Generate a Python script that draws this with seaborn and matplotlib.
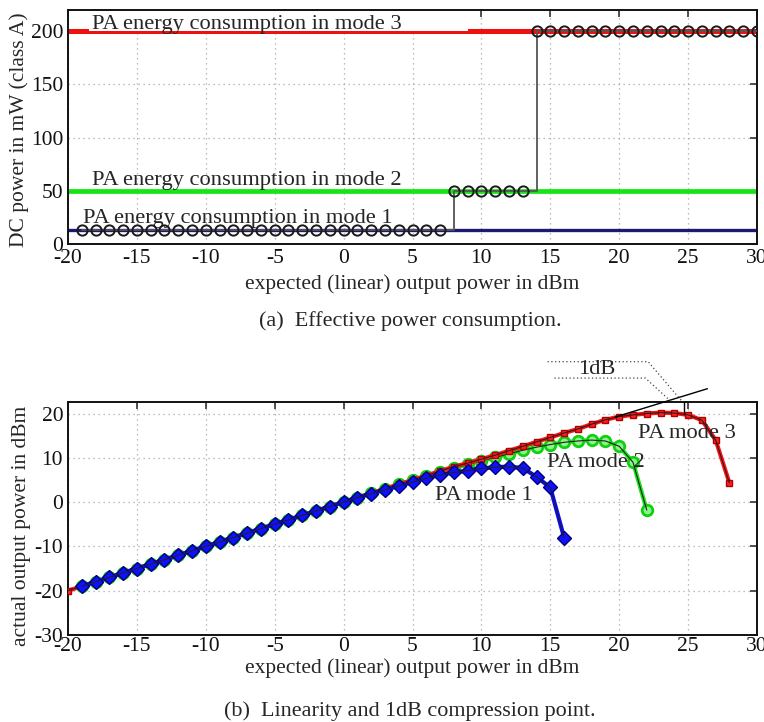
import matplotlib
matplotlib.use("Agg")
import matplotlib.pyplot as plt
from matplotlib.patches import Rectangle
import seaborn as sns

# ---- data -------------------------------------------------------------
# (a) DC power of the selected PA mode vs. expected output power
mode_levels = [13, 50, 200]                      # mW, modes 1..3
mode_colors = ["#1a1a72", "#14e614", "#f01010"]
mode_labels = ["PA energy consumption in mode 1",
               "PA energy consumption in mode 2",
               "PA energy consumption in mode 3"]
sel_in = list(range(-19, 31))
sel_dc = [13] * 27 + [50] * 6 + [200] * 17

# (b) actual output power for each PA mode
in_m1 = list(range(-19, 17))
out_m1 = [-19, -18, -17, -16, -15, -14, -13, -12, -11, -10,
          -9, -8, -7, -6, -5, -4, -3, -2, -1,
          0, 1.0, 1.9, 2.8, 3.6, 4.5, 5.4, 6.1, 6.7, 7.1,
          7.6, 7.9, 8.0, 7.7, 5.7, 3.3, -8.0]
in_m2 = list(range(-19, 23))
out_m2 = [-19, -18, -17, -16, -15, -14, -13, -12, -11, -10,
          -9, -8, -7, -6, -5, -4, -3, -2, -1,
          0, 1, 2, 3, 4, 4.9, 5.9, 6.8, 7.7, 8.5, 9.3,
          10.1, 10.9, 11.7, 12.4, 13.0, 13.5, 13.8, 14.0, 13.8, 12.6,
          9.0, -1.8]
in_m3 = list(range(-20, 29))
out_m3 = [-20, -19, -18, -17, -16, -15, -14, -13, -12, -11, -10,
          -9, -8, -7, -6, -5, -4, -3, -2, -1,
          0, 1, 2, 3, 4, 5, 6, 7, 8, 8.8, 9.7,
          10.6, 11.6, 12.6, 13.6, 14.6, 15.6, 16.5, 17.6, 18.6, 19.3,
          19.7, 20.0, 20.2, 20.1, 19.7, 18.5, 14.0, 4.3]
curve_labels = ["PA mode 1", "PA mode 2", "PA mode 3"]

x_ticks = list(range(-20, 31, 5))
y_ticks_a = [0, 50, 100, 150, 200]
y_ticks_b = [-30, -20, -10, 0, 10, 20]

# ---- style ------------------------------------------------------------
sns.set_theme(style="white")
plt.rcParams["font.family"] = ["Liberation Serif", "DejaVu Serif"]
plt.rcParams["axes.unicode_minus"] = False
FS = 15.5      # ticks, axis labels, captions
FA = 16.2      # in-plot annotations

fig = plt.figure(figsize=(7.64, 7.22), dpi=100)
ax1 = fig.add_axes([68 / 764, 1 - 244 / 722, 689 / 764, 234 / 722])
ax2 = fig.add_axes([68 / 764, 1 - 635 / 722, 689 / 764, 233 / 722])


def frame(ax):
    ax.grid(True, linestyle=(0, (1, 3)), color="#a8a8a8", linewidth=0.9)
    ax.set_axisbelow(True)
    for s in ax.spines.values():
        s.set_color("#111111")
        s.set_linewidth(1.4)
    ax.tick_params(direction="in", top=True, right=True, length=5,
                   width=1.2, color="#333333", labelsize=FS,
                   labelcolor="#111111")
    ax.set_xticks(x_ticks)
    ax.set_xticklabels([str(t) for t in x_ticks])


# ---- (a) effective power consumption ----------------------------------
frame(ax1)
ax1.set_xlim(-20, 30)
ax1.set_ylim(0, 220)
ax1.set_yticks(y_ticks_a)
ax1.set_yticklabels([str(t) for t in y_ticks_a])

lw_levels = [2.4, 3.4, 3.6]
for lvl, col, lw in zip(mode_levels, mode_colors, lw_levels):
    ax1.axhline(lvl, color=col, lw=lw, zorder=1)

# white label box over the mode-3 line
ax1.add_patch(Rectangle((-18.5, 200.6), 27.5, 30, facecolor="white",
                        edgecolor="none", zorder=2))

ax1.text(-18.25, 202.0, mode_labels[2], fontsize=FA, zorder=3,
         ha="left", va="baseline")
ax1.text(-18.25, 55.5, mode_labels[1], fontsize=FA, zorder=3,
         ha="left", va="baseline")
ax1.text(-18.9, 19.5, mode_labels[0], fontsize=FA, zorder=3,
         ha="left", va="baseline")

sns.lineplot(x=sel_in, y=sel_dc, ax=ax1, estimator=None, sort=False,
             color="#555555", linewidth=1.3, drawstyle="steps-post",
             zorder=4, legend=False)
sns.lineplot(x=sel_in, y=sel_dc, ax=ax1, estimator=None, sort=False,
             color="#555555", linewidth=0, marker="o", markersize=7.4,
             markerfacecolor="none", markeredgecolor="#1a1a1a",
             markeredgewidth=1.4, zorder=5, legend=False)

ax1.set_xlabel("expected (linear) output power in dBm", fontsize=FS,
               va="center")
ax1.xaxis.set_label_coords(0.5, -0.172)
ax1.set_ylabel("DC power in mW (class A)", fontsize=FS, va="center")
ax1.yaxis.set_label_coords((19 - 68) / 689, 0.49)

# ---- (b) linearity and 1dB compression --------------------------------
frame(ax2)
ax2.set_xlim(-20, 30)
ax2.set_ylim(-30, 22.6)
ax2.set_yticks(y_ticks_b)
ax2.set_yticklabels([str(t) for t in y_ticks_b])
ax2.tick_params(axis="x", pad=1.5)

# drawing order: mode 2 at the back, then mode 3, mode 1 in front
series = [
    (in_m2, out_m2, "#19e619", "o", 7.6, "#8af58a", "#10d010", 2.0, 3),
    (in_m3, out_m3, "#ff1010", "s", 4.6, "#ff2020", "#b00000", 1.0, 5),
    (in_m1, out_m1, "#0a0aff", "D", 7.6, "#1010ff", "#00007a", 1.0, 7),
]
for xs, ys, col, mk, ms, mfc, mec, mew, z in series:
    sns.lineplot(x=xs, y=ys, ax=ax2, estimator=None, sort=False,
                 color=col, linewidth=3.0, marker=mk, markersize=ms,
                 markerfacecolor=mfc, markeredgecolor=mec,
                 markeredgewidth=mew, zorder=z, legend=False)
    sns.lineplot(x=xs, y=ys, ax=ax2, estimator=None, sort=False,
                 color="#202020", linewidth=0.8, zorder=z + 1,
                 legend=False)

ax2.text(6.63, 1.6, curve_labels[0], fontsize=FA, ha="left", va="center",
         zorder=10)
ax2.text(14.76, 9.05, curve_labels[1], fontsize=FA, ha="left", va="center",
         zorder=10)
ax2.text(21.36, 15.6, curve_labels[2], fontsize=FA, ha="left", va="center",
         zorder=10)

# 1dB compression annotation
ax2.plot([19.7, 26.4], [19.2, 25.6], color="black", lw=1.0,
         clip_on=False, zorder=11)
ax2.plot([24.7, 24.7], [22.6, 19.8], color="black", lw=1.0,
         clip_on=False, zorder=11)
ax2.plot([14.8, 22.1, 24.6], [31.7, 31.7, 22.6], color="#444444", lw=0.9,
         linestyle=(0, (1, 2)), clip_on=False, zorder=11)
ax2.plot([15.3, 21.9, 23.8], [28.0, 28.0, 22.6], color="#444444", lw=0.9,
         linestyle=(0, (1, 2)), clip_on=False, zorder=11)
ax2.text(17.0, 29.9, "1dB", fontsize=FA, ha="left", va="center",
         clip_on=False, zorder=12)

ax2.set_xlabel("expected (linear) output power in dBm", fontsize=FS,
               va="center")
ax2.xaxis.set_label_coords(0.5, -0.142)
ax2.set_ylabel("actual output power in dBm", fontsize=FS, va="center")
ax2.yaxis.set_label_coords((22 - 68) / 689, 0.47)

# ---- captions ---------------------------------------------------------
fig.text(410 / 764, 1 - 321 / 722, "(a)  Effective power consumption.",
         fontsize=15.9, ha="center", va="center")
fig.text(410 / 764, 1 - 711 / 722,
         "(b)  Linearity and 1dB compression point.",
         fontsize=15.9, ha="center", va="center")

fig.savefig("out.png", dpi=100)
